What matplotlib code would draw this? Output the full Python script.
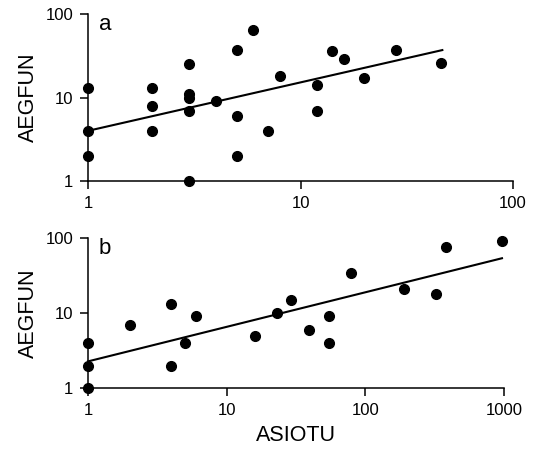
import numpy as np
import matplotlib
matplotlib.use("Agg")
import matplotlib.pyplot as plt

plt.rcParams['font.family'] = ['Liberation Sans', 'DejaVu Sans']

# panel a data
a_x = [1, 1, 1, 2, 2, 2, 3, 3, 3, 3, 3, 4, 5, 5, 5, 6, 7, 8, 12, 12, 14, 16, 20, 28, 46]
a_y = [13, 4, 2, 13, 8, 4, 25, 11, 10, 7, 1, 9, 37, 6, 2, 64, 4, 18, 14, 7, 36, 29, 17, 37, 26]
a_fit = (4.0, 0.58)          # intercept, slope (log-log)
a_fit_x = [1, 46.5]

# panel b data
b_x = [1, 1, 1, 2, 4, 4, 5, 6, 16, 23, 29, 39, 55, 55, 79, 192, 326, 381, 970]
b_y = [4, 2, 1, 7, 13, 2, 4, 9, 5, 10, 15, 6, 9, 4, 34, 21, 18, 76, 91]
b_fit = (2.27, 0.46)
b_fit_x = [1, 970]

fig = plt.figure(figsize=(5.4, 4.55), dpi=100)
ax1 = fig.add_axes([0.163, 0.602, 0.787, 0.367])
ax2 = fig.add_axes([0.163, 0.147, 0.770, 0.330])

panels = [
    (ax1, a_x, a_y, a_fit, a_fit_x, 100, [1, 10, 100], 'a'),
    (ax2, b_x, b_y, b_fit, b_fit_x, 1000, [1, 10, 100, 1000], 'b'),
]

for ax, xs, ys, fit, fx, xmax, xt, lab in panels:
    ax.set_xscale('log')
    ax.set_yscale('log')
    ax.set_xlim(1, xmax)
    ax.set_ylim(1, 100)
    fx = np.array(fx, dtype=float)
    ax.plot(fx, fit[0] * fx ** fit[1], color='black', lw=1.5, clip_on=False)
    ax.plot(xs, ys, 'o', color='black', ms=7, clip_on=False, zorder=3)
    ax.set_xticks(xt)
    ax.set_xticklabels([str(v) for v in xt])
    ax.set_yticks([1, 10, 100])
    ax.set_yticklabels(['1', '10', '100'])
    ax.minorticks_off()
    for s in ['top', 'right']:
        ax.spines[s].set_visible(False)
    for s in ['left', 'bottom']:
        ax.spines[s].set_linewidth(1.1)
    ax.tick_params(direction='out', length=6, width=1.1, labelsize=12, pad=4.5)
    ax.set_ylabel('AEGFUN', fontsize=15.5, labelpad=5)
    ax.text(0.025, 1.0, lab, transform=ax.transAxes, fontsize=16,
            ha='left', va='top')

ax2.set_xlabel('ASIOTU', fontsize=15.5, labelpad=5)

fig.savefig('out.png', dpi=100)
